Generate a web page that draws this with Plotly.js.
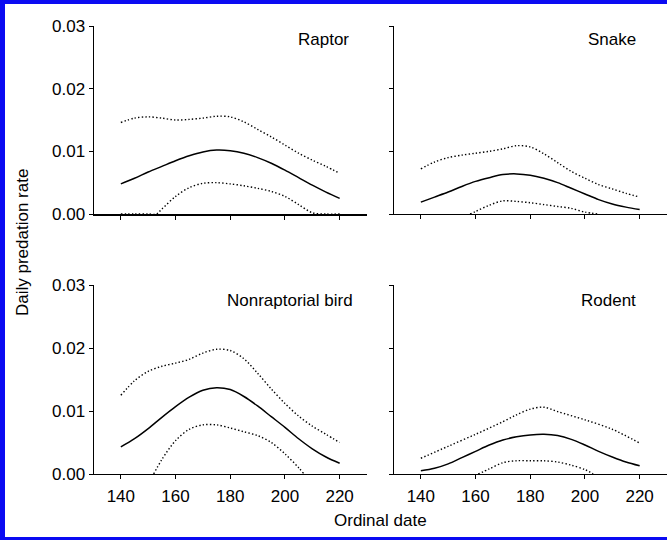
<!DOCTYPE html>
<html>
<head>
<meta charset="utf-8">
<script src="https://cdn.plot.ly/plotly-3.0.1.min.js"></script>
<style>
body{margin:0;background:#fff;}
#wrap{position:relative;width:667px;height:542px;overflow:hidden;}
#frame{position:absolute;left:0;top:0;width:667px;height:540px;box-sizing:border-box;border-top:4px solid #0b0bf2;border-left:5px solid #0b0bf2;border-bottom:3px solid #0b0bf2;pointer-events:none;}
</style>
</head>
<body>
<div id="wrap"><div id="chart"></div><div id="frame"></div></div>
<script>
// ---- data ----
const panelNames = ["Raptor", "Snake", "Nonraptorial bird", "Rodent"];
const xTickVals = [140, 160, 180, 200, 220];
const xTickLabels = ["140", "160", "180", "200", "220"];
const yTickVals = [0, 0.01, 0.02, 0.03];
const yTickLabels = ["0.00", "0.01", "0.02", "0.03"];
const xTitle = "Ordinal date";
const yTitle = "Daily predation rate";

const dates = [140,145,150,155,160,165,170,175,180,185,190,195,200,205,210,215,220];

const raptorMean  = [0.0048,0.0057,0.0067,0.0076,0.0085,0.0093,0.0099,0.0102,0.0101,0.0097,0.0090,0.0081,0.0070,0.0058,0.0046,0.0035,0.0025];
const raptorUpper = [0.0146,0.0153,0.0155,0.0153,0.0150,0.0151,0.0153,0.0156,0.0155,0.0147,0.0135,0.0123,0.0110,0.0097,0.0086,0.0076,0.0065];
const raptorLowerX = [140,145,150,153,155,160,165,170,175,180,185,190,195,200,205,210,215,220];
const raptorLower  = [0,0,0,0,0.0008,0.0028,0.0042,0.0049,0.0050,0.0048,0.0045,0.0041,0.0036,0.0028,0.0015,0.0002,0,0];

const snakeMean  = [0.0019,0.0027,0.0035,0.0044,0.0052,0.0058,0.0063,0.0064,0.0062,0.0057,0.0050,0.0041,0.0032,0.0023,0.0016,0.0011,0.0007];
const snakeUpper = [0.0072,0.0083,0.0090,0.0094,0.0097,0.0100,0.0104,0.0109,0.0107,0.0096,0.0082,0.0068,0.0057,0.0047,0.0040,0.0033,0.0027];
const snakeLowerX = [158,160,165,170,175,180,185,190,195,200,205];
const snakeLower  = [0,0.0004,0.0014,0.0021,0.0020,0.0018,0.0015,0.0012,0.0009,0.0003,0];

const birdMean  = [0.0043,0.0056,0.0072,0.0090,0.0107,0.0122,0.0133,0.0137,0.0134,0.0123,0.0108,0.0091,0.0074,0.0056,0.0040,0.0027,0.0017];
const birdUpper = [0.0125,0.0148,0.0163,0.0171,0.0176,0.0182,0.0192,0.0198,0.0196,0.0183,0.0160,0.0135,0.0112,0.0092,0.0076,0.0063,0.0050];
const birdLowerX = [152,155,160,165,170,175,180,185,190,195,200,205,207];
const birdLower  = [0,0.0023,0.0053,0.0071,0.0078,0.0078,0.0073,0.0067,0.0061,0.0050,0.0032,0.0010,0];

const rodentMean  = [0.0005,0.0009,0.0016,0.0026,0.0036,0.0046,0.0054,0.0059,0.0062,0.0063,0.0061,0.0055,0.0046,0.0036,0.0027,0.0019,0.0013];
const rodentUpperX = [140,150,160,170,175,180,185,190,200,210,220];
const rodentUpper  = [0.0025,0.0044,0.0063,0.0083,0.0094,0.0103,0.0106,0.0099,0.0086,0.0071,0.0049];
const rodentLowerX = [161,165,170,175,180,185,190,195,200,203];
const rodentLower  = [0,0.0008,0.0018,0.0021,0.0021,0.0021,0.0019,0.0014,0.0007,0];

// ---- build ----
const FONT = "Liberation Sans, Arial, sans-serif";
const panels = [
  {mx: dates, m: raptorMean, ux: dates, u: raptorUpper, lx: raptorLowerX, l: raptorLower, xa: "x", ya: "y"},
  {mx: dates, m: snakeMean, ux: dates, u: snakeUpper, lx: snakeLowerX, l: snakeLower, xa: "x2", ya: "y2"},
  {mx: dates, m: birdMean, ux: dates, u: birdUpper, lx: birdLowerX, l: birdLower, xa: "x3", ya: "y3"},
  {mx: dates, m: rodentMean, ux: rodentUpperX, u: rodentUpper, lx: rodentLowerX, l: rodentLower, xa: "x4", ya: "y4"}
];
const dotted = {color: "#000", width: 1.4, dash: "1.4px,2.2px", shape: "spline", smoothing: 0.9};
const solid = {color: "#000", width: 1.5, shape: "spline", smoothing: 0.9};
const traces = [];
panels.forEach(p => {
  traces.push({x: p.ux, y: p.u, xaxis: p.xa, yaxis: p.ya, mode: "lines", line: dotted, hoverinfo: "skip"});
  traces.push({x: p.lx, y: p.l, xaxis: p.xa, yaxis: p.ya, mode: "lines", line: dotted, hoverinfo: "skip"});
  traces.push({x: p.mx, y: p.m, xaxis: p.xa, yaxis: p.ya, mode: "lines", line: solid, hoverinfo: "skip"});
});

const W = 667, H = 542;
const leftDom = [93.5 / W, 367 / W];
const rightDom = [393.5 / W, 1.0];
const topDom = [1 - 214 / H, 1 - 26 / H];
const botDom = [1 - 474 / H, 1 - 285 / H];

function xAx(dom, anchor, labels, lw) {
  return {domain: dom, anchor: anchor, range: [130, 230], showgrid: false, zeroline: false,
    showline: true, linecolor: "#000", linewidth: lw, ticks: "outside", ticklen: 4, tickcolor: "#000", tickwidth: 1,
    tickvals: xTickVals, ticktext: xTickLabels, showticklabels: labels, ticklabelstandoff: 3,
    tickfont: {family: FONT, size: 17, color: "#000"}};
}
function yAx(dom, anchor, labels) {
  return {domain: dom, anchor: anchor, range: [0, 0.03], showgrid: false, zeroline: false,
    showline: true, linecolor: "#000", linewidth: 1, ticks: "outside", ticklen: 4, tickcolor: "#000", tickwidth: 1,
    tickvals: yTickVals, ticktext: yTickLabels, showticklabels: labels, tickfont: {family: FONT, size: 17, color: "#000"}};
}

const labelPos = [
  {xref: "x", yref: "y", x: 224, y: 0.0278},
  {xref: "x2", yref: "y2", x: 219.5, y: 0.0278},
  {xref: "x3", yref: "y3", x: 225.7, y: 0.0276},
  {xref: "x4", yref: "y4", x: 219.5, y: 0.0276}
];
const annotations = panelNames.map((name, i) => Object.assign({
  text: name, showarrow: false, xanchor: "right", yanchor: "middle",
  font: {family: FONT, size: 17, color: "#000"}
}, labelPos[i]));
annotations.push({text: xTitle, xref: "paper", yref: "paper", x: 380 / W, y: 1 - 520 / H, showarrow: false,
  xanchor: "center", yanchor: "middle", font: {family: FONT, size: 17, color: "#000"}});
annotations.push({text: yTitle, xref: "paper", yref: "paper", x: 22 / W, y: 1 - 243 / H, showarrow: false,
  textangle: -90, xanchor: "center", yanchor: "middle", font: {family: FONT, size: 17, color: "#000"}});

const layout = {
  width: W, height: H,
  margin: {l: 0, r: 0, t: 0, b: 0},
  paper_bgcolor: "#fff", plot_bgcolor: "#fff",
  showlegend: false,
  xaxis: xAx(leftDom, "y", false, 2),
  yaxis: yAx(topDom, "x", true),
  xaxis2: xAx(rightDom, "y2", false, 1),
  yaxis2: yAx(topDom, "x2", false),
  xaxis3: xAx(leftDom, "y3", true, 1),
  yaxis3: yAx(botDom, "x3", true),
  xaxis4: xAx(rightDom, "y4", true, 1),
  yaxis4: yAx(botDom, "x4", false),
  annotations: annotations
};
Plotly.newPlot("chart", traces, layout, {displayModeBar: false, staticPlot: true});
</script>
</body>
</html>
